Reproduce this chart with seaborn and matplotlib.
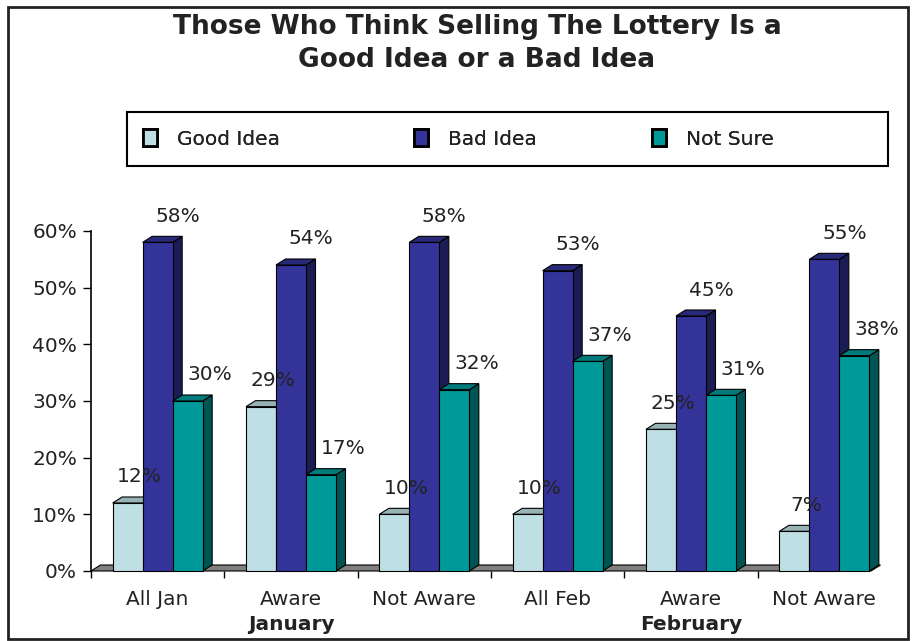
import numpy as np
import pandas as pd
import matplotlib
matplotlib.use("Agg")
import matplotlib.pyplot as plt
import seaborn as sns
from matplotlib.patches import Polygon, Rectangle, Patch
from matplotlib.colors import to_rgb

# Survey results (percent) by group
categories = ["All Jan", "Jan Aware", "Jan Not Aware", "All Feb", "Feb Aware", "Feb Not Aware"]
tick_labels = ["All Jan", "Aware", "Not Aware", "All Feb", "Aware", "Not Aware"]
series = ["Good Idea", "Bad Idea", "Not Sure"]
good_idea = [12, 29, 10, 10, 25, 7]
bad_idea = [58, 54, 58, 53, 45, 55]
not_sure = [30, 17, 32, 37, 31, 38]
month_labels = ["January", "February"]
month_positions = [1, 4]
yticks = [0, 10, 20, 30, 40, 50, 60]

colors = {"Good Idea": "#BEE0E4", "Bad Idea": "#333399", "Not Sure": "#009999"}

df = pd.DataFrame({
    "group": categories * 3,
    "response": [s for s in series for _ in categories],
    "value": good_idea + bad_idea + not_sure,
})

sns.set_theme(style="white")
plt.rcParams["font.family"] = ["DejaVu Sans"]
TXT = "#222222"
FS = 14.5

W, H = 914, 641
fig = plt.figure(figsize=(W / 100, H / 100), dpi=100)
fig.patch.set_facecolor("white")
ax = fig.add_axes([91 / W, (H - 571) / H, 800 / W, 340 / H])

sns.barplot(data=df, x="group", y="value", hue="response", order=categories,
            hue_order=series, palette=colors, saturation=1, width=0.675,
            errorbar=None, edgecolor="black", linewidth=0.8, legend=False, ax=ax)
bars = sorted(list(ax.patches), key=lambda p: p.get_x())

ax.set_xlim(-0.5, 5.5)
ax.set_ylim(0, 60)

# pseudo-3D depth, in data units
px_x = 800 / 6.0          # pixels per category
px_y = 340 / 60.0         # pixels per percent
dx = 9.5 / px_x
dy = 6.0 / px_y

def shade(c, f):
    r, g, b = to_rgb(c)
    return (r * f, g * f, b * f)

# floor under the bars
fx0, fx1 = -0.5, (871 - 91) / px_x - 0.5
floor = Polygon([(fx0, 0), (fx1, 0), (fx1 + dx, dy), (fx0 + dx, dy)], closed=True,
                facecolor="#808080", edgecolor="black", linewidth=0.8, zorder=1,
                clip_on=False)
ax.add_patch(floor)

label_dx = {"Good Idea": 12, "Bad Idea": 20, "Not Sure": 22}
for k, bar in enumerate(bars):
    x, w, h = bar.get_x(), bar.get_width(), bar.get_height()
    fc = bar.get_facecolor()
    name = series[k % 3]
    side = Polygon([(x + w, 0), (x + w + dx, dy), (x + w + dx, h + dy), (x + w, h)],
                   closed=True, facecolor=shade(fc, 0.55), edgecolor="black",
                   linewidth=0.8, zorder=2 + 2 * k, clip_on=False)
    top = Polygon([(x, h), (x + w, h), (x + w + dx, h + dy), (x + dx, h + dy)],
                  closed=True, facecolor=shade(fc, 0.8), edgecolor="black",
                  linewidth=0.8, zorder=2 + 2 * k, clip_on=False)
    ax.add_patch(side)
    ax.add_patch(top)
    bar.set_zorder(3 + 2 * k)
    bar.set_clip_on(False)
    ax.annotate(f"{h:.0f}%", xy=(x + w / 2, h), xytext=(label_dx[name], 26),
                textcoords="offset pixels", ha="center", va="center",
                fontsize=FS, color=TXT, zorder=100, annotation_clip=False)

# axes styling
for s in ["top", "right", "bottom"]:
    ax.spines[s].set_visible(False)
ax.spines["left"].set_color("black")
ax.spines["left"].set_linewidth(1.2)
ax.set_yticks(yticks)
ax.set_yticklabels([f"{v}%" for v in yticks])
ax.tick_params(axis="y", left=True, length=6, width=1, direction="out",
               color="black", pad=4, labelsize=FS, labelcolor=TXT)
ax.set_xticks(range(len(categories)))
ax.set_xticklabels(tick_labels)
ax.tick_params(axis="x", which="major", length=0, pad=14, labelsize=FS, labelcolor=TXT)
ax.set_xticks(np.arange(-0.5, 5.0, 1.0), minor=True)
ax.tick_params(axis="x", which="minor", bottom=True, length=5, width=1,
               direction="out", color="black")
ax.set_xlabel("")
ax.set_ylabel("")
ax.set_facecolor("none")

for name, pos in zip(month_labels, month_positions):
    ax.annotate(name, xy=(pos, H - 624), xycoords=("data", "figure pixels"),
                ha="center", va="center", fontsize=FS, fontweight="bold",
                color=TXT, annotation_clip=False)

# title
fig.text(477 / W, 1 - 27 / H, "Those Who Think Selling The Lottery Is a",
         ha="center", va="center", fontsize=19, fontweight="bold", color=TXT)
fig.text(477 / W, 1 - 60 / H, "Good Idea or a Bad Idea",
         ha="center", va="center", fontsize=19, fontweight="bold", color=TXT)

# legend: one entry per series, spaced across the box
legend_x = [143, 414, 652]
for s, lx in zip(series, legend_x):
    handle = Patch(facecolor=colors[s], edgecolor="black", linewidth=2)
    fig.add_artist(fig.legend([handle], [s], loc="center left",
                              bbox_to_anchor=(lx / W, 1 - 139 / H), frameon=False,
                              fontsize=FS, handlelength=0.7, handleheight=0.9,
                              handletextpad=1.0, borderpad=0, borderaxespad=0,
                              labelcolor=TXT))
fig.add_artist(Rectangle((127 / W, (H - 166) / H), 761 / W, 54 / H,
                         transform=fig.transFigure, fill=False, edgecolor="black",
                         linewidth=1.5))

# outer frame
fig.add_artist(Rectangle((8 / W, 2 / H), 900 / W, 632 / H, transform=fig.transFigure,
                         fill=False, edgecolor=TXT, linewidth=2))

fig.savefig("out.png", dpi=100)
